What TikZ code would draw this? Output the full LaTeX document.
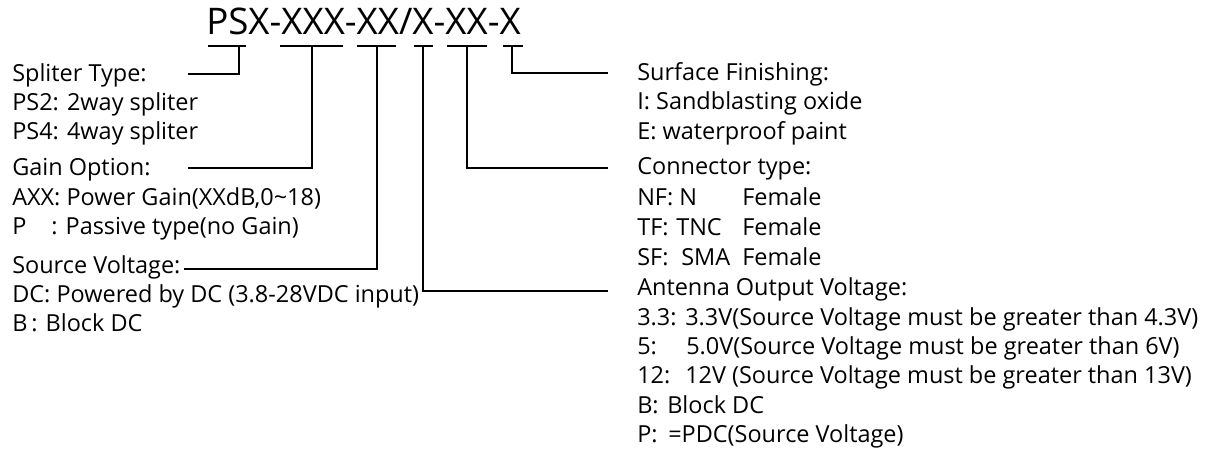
\documentclass[tikz,border=0pt]{standalone}
\usepackage{fontspec}
\setmainfont{Open Sans}
\begin{document}
\begin{tikzpicture}[x=0.75pt,y=-0.75pt,
  txt/.style={anchor=base west, inner sep=0pt, font=\fontsize{17.6}{21}\selectfont},
  ttl/.style={anchor=base west, inner sep=0pt, font=\fontsize{27.5}{32}\selectfont},
  lead/.style={line width=1.5pt, black}]
\useasboundingbox (0,0) rectangle (1212,452);
% title
\node[ttl] (title) at (206,35) {PSX-XXX-XX/X-XX-X};
% bars under code fields
\coordinate (b1l) at (208,46); \coordinate (b1r) at (246,46); \coordinate (d1) at (239,46);
\coordinate (b2l) at (280,46); \coordinate (b2r) at (343,46); \coordinate (d2) at (312,46);
\coordinate (b3l) at (357,46); \coordinate (b3r) at (396,46); \coordinate (d3) at (377,46);
\coordinate (b4l) at (414,46); \coordinate (b4r) at (433,46); \coordinate (d4) at (423,46);
\coordinate (b5l) at (447,46); \coordinate (b5r) at (487,46); \coordinate (d5) at (467,46);
\coordinate (b6l) at (503,46); \coordinate (b6r) at (523,46); \coordinate (d6) at (512,46);
% connector free ends
\coordinate (e1) at (188,74);
\coordinate (e2) at (188,168);
\coordinate (e3) at (184,269);
\coordinate (e4) at (608,291);
\coordinate (e5) at (608,168);
\coordinate (e6) at (608,73);
% left texts
\node[txt] (st)  at (12,82)  {Spliter Type:};
\node[txt] (st1) at (12,111) {PS2: 2way spliter};
\node[txt] (st2) at (12,140) {PS4: 4way spliter};
\node[txt] (go)  at (12,176) {Gain Option:};
\node[txt] (go1) at (12,205) {AXX: Power Gain(XXdB,0\char`\~18)};
\node[txt] (go2) at (12,234) {P};
\node[txt] (go2b) at (51,234) {: Passive type(no Gain)};
\node[txt] (sv)  at (12,273) {Source Voltage:};
\node[txt] (sv1) at (12,302) {DC: Powered by DC (3.8-28VDC input)};
\node[txt] (sv2) at (12,331) {B};
\node[txt] (sv2b) at (31,331) {: Block DC};
% right texts
\node[txt] (sf)  at (637,81)  {Surface Finishing:};
\node[txt] (sf1) at (637,110) {I: Sandblasting oxide};
\node[txt] (sf2) at (637,140) {E: waterproof paint};
\node[txt] (ct)  at (637,175) {Connector type:};
\node[txt] (ct1) at (637,205) {NF:};
\node[txt] (ct1b) at (679,205) {N};
\node[txt] (ct1c) at (742,205) {Female};
\node[txt] (ct2) at (637,235) {TF:};
\node[txt] (ct2b) at (676,235) {TNC};
\node[txt] (ct2c) at (742,235) {Female};
\node[txt] (ct3) at (637,265) {SF:};
\node[txt] (ct3b) at (681,265) {SMA};
\node[txt] (ct3c) at (742,265) {Female};
\node[txt] (av)  at (637,295) {Antenna Output Voltage:};
\node[txt] (av1) at (637,325) {3.3:};
\node[txt] (av1b) at (685,325) {3.3V(Source Voltage must be greater than 4.3V)};
\node[txt] (av2) at (637,354) {5:};
\node[txt] (av2b) at (686,354) {5.0V(Source Voltage must be greater than 6V)};
\node[txt] (av3) at (637,383) {12:};
\node[txt] (av3b) at (685,383) {12V (Source Voltage must be greater than 13V)};
\node[txt] (av4) at (637,413) {B:};
\node[txt] (av4b) at (667,413) {Block DC};
\node[txt] (av5) at (637,442) {P:};
\node[txt] (av5b) at (668,442) {=PDC(Source Voltage)};
% bars and connectors
\foreach \i in {1,...,6} {\draw[lead] (b\i l) -- (b\i r);}
\draw[lead] (d1) |- (e1);
\draw[lead] (d2) |- (e2);
\draw[lead] (d3) |- (e3);
\draw[lead] (d4) |- (e4);
\draw[lead] (d5) |- (e5);
\draw[lead] (d6) |- (e6);
\end{tikzpicture}
\end{document}
